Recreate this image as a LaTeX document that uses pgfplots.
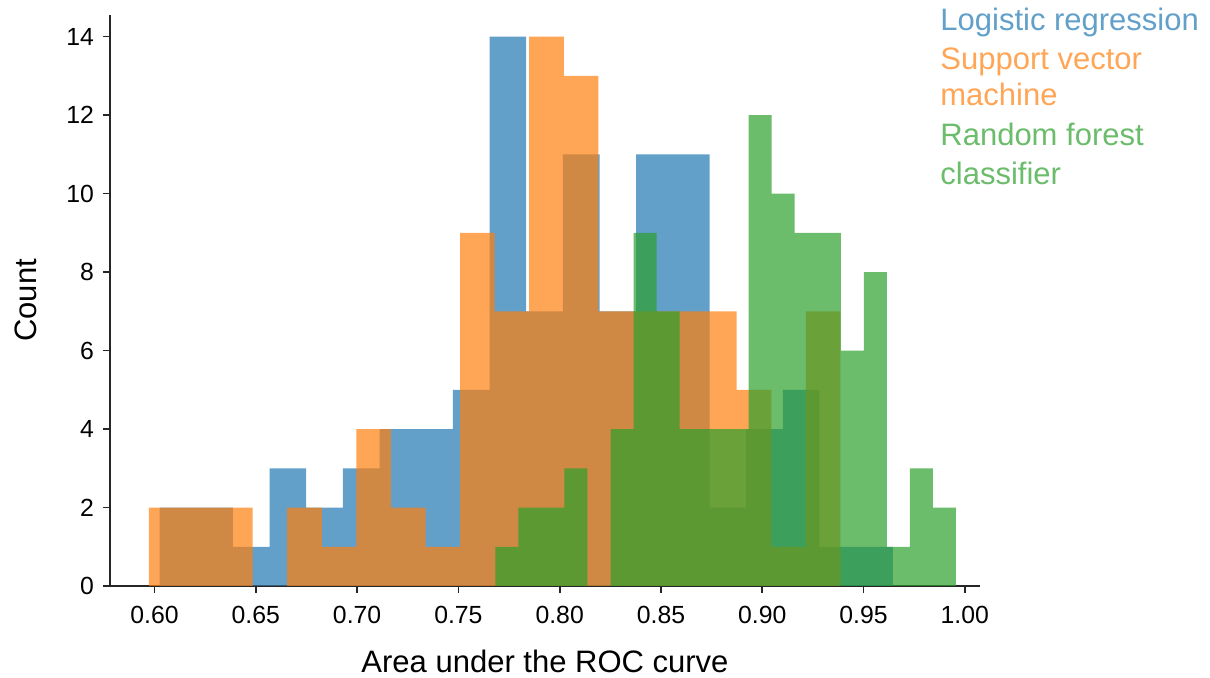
\documentclass[border=0pt]{standalone}
\usepackage{fontspec}
\setmainfont{Liberation Sans}
\usepackage{pgfplots}
\pgfplotsset{compat=1.18}
\definecolor{cblue}{RGB}{31,119,180}
\definecolor{corange}{RGB}{255,127,14}
\definecolor{cgreen}{RGB}{44,160,44}
\definecolor{tblue}{HTML}{62A0CA}
\definecolor{torange}{HTML}{FFA556}
\definecolor{tgreen}{HTML}{6BBC6B}
\begin{document}
\begin{tikzpicture}
\begin{axis}[
  at={(0,0)}, anchor=south west,
  scale only axis, width=435pt, height=285.5pt,
  xmin=0.578, xmax=1.0075, ymin=0, ymax=14.55,
  axis lines*=left,
  axis line style={black!85, line width=1pt},
  tick align=outside, major tick length=3.5pt,
  tick style={black!85, line width=0.9pt},
  xtick={0.60,0.65,0.70,0.75,0.80,0.85,0.90,0.95,1.00},
  ytick={0,2,4,6,8,10,12,14},
  /pgf/number format/assume math mode=true,
  ticklabel style={font=\fontsize{12.4}{14}\selectfont},
  xticklabel style={yshift=-3pt, /pgf/number format/fixed, /pgf/number format/fixed zerofill, /pgf/number format/precision=2},
  yticklabel style={xshift=-1pt},
  label style={font=\fontsize{15.5}{18}\selectfont},
  xlabel={Area under the ROC curve}, ylabel={Count},
  xlabel style={yshift=-6.5pt},
  ylabel style={yshift=8pt},
]
% Logistic regression
\addplot[ybar interval, fill=cblue, fill opacity=0.7, draw=none] coordinates {
(0.60247,2) (0.62057,2) (0.63867,1) (0.65677,3) (0.67487,2)
(0.69296,3) (0.71106,4) (0.72916,4) (0.74726,5) (0.76536,14)
(0.78346,7) (0.80156,11) (0.81966,7) (0.83776,11) (0.85586,11)
(0.87396,2) (0.89206,4) (0.91016,5) (0.92825,1) (0.94635,1)
(0.96444,0)};
% Support vector machine
\addplot[ybar interval, fill=corange, fill opacity=0.7, draw=none] coordinates {
(0.59719,2) (0.61426,2) (0.63133,2) (0.64840,0) (0.66547,2)
(0.68254,1) (0.69962,4) (0.71669,2) (0.73376,1) (0.75083,9)
(0.76790,7) (0.78497,14) (0.80204,13) (0.81912,7) (0.83619,7)
(0.85326,7) (0.87033,7) (0.88740,5) (0.90447,1) (0.92154,7)
(0.93862,0)};
% Random forest classifier
\addplot[ybar interval, fill=cgreen, fill opacity=0.7, draw=none] coordinates {
(0.76825,1) (0.77962,2) (0.79098,2) (0.80235,3) (0.81372,0)
(0.82509,4) (0.83646,9) (0.84782,7) (0.85919,4) (0.87056,4)
(0.88193,4) (0.89330,12) (0.90466,10) (0.91603,9) (0.92740,9)
(0.93877,6) (0.95014,8) (0.96150,1) (0.97287,3) (0.98424,2)
(0.99561,0)};
\end{axis}
\begin{scope}[every node/.style={anchor=base west, inner sep=0pt, font=\fontsize{15.5}{18}\selectfont}]
\node[text=tblue] at (415pt,277.6pt) {Logistic regression};
\node[text=torange] at (415pt,258.4pt) {Support vector};
\node[text=torange] at (415pt,240pt) {machine};
\node[text=tgreen] at (415pt,220.2pt) {Random forest};
\node[text=tgreen] at (415pt,200.9pt) {classifier};
\end{scope}
\pgfresetboundingbox
\path (-55pt,-46pt) rectangle (550pt,293pt);
\end{tikzpicture}
\end{document}
